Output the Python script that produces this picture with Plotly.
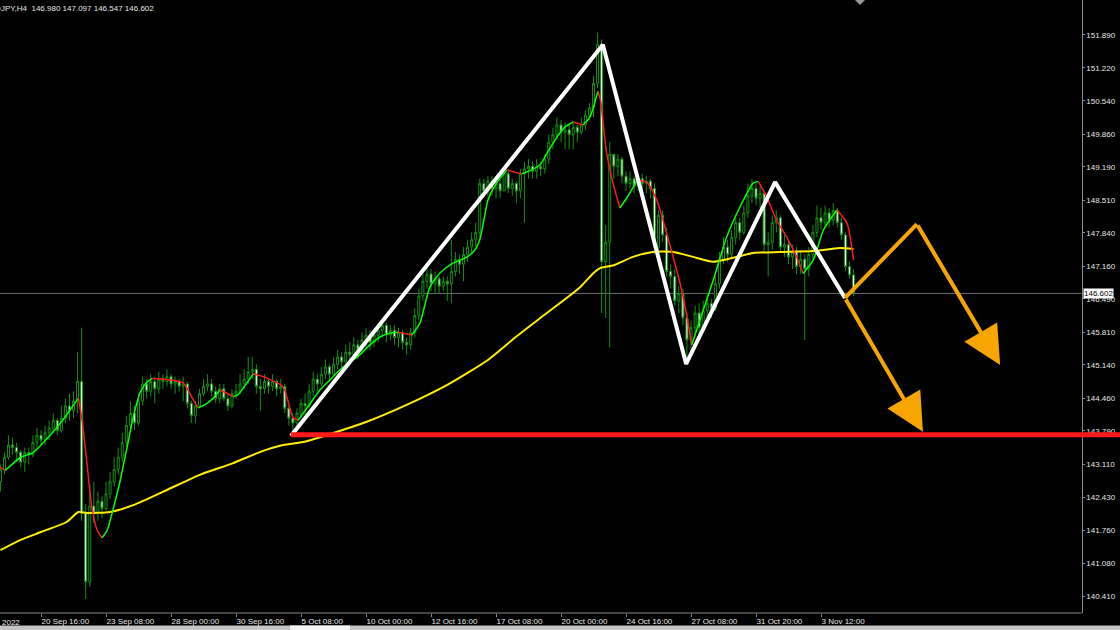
import plotly.graph_objects as go

# ---------------- data ----------------
symbol_header = "USDJPY,H4  146.980 147.097 146.547 146.602"
first_open = 142.75
closes = [
    143.00, 143.25, 143.50, 143.45, 143.35, 143.15, 143.35, 143.30, 143.55, 143.70,
    143.60, 143.75, 143.85, 144.00, 143.80, 144.05, 144.30, 144.20, 144.40, 144.80,
    142.10, 140.70, 142.25, 142.10, 142.35, 142.20, 142.50, 142.75, 143.00, 143.25,
    143.55, 143.90, 144.15, 143.95, 144.40, 144.75, 144.60, 144.80, 144.65, 144.85,
    144.80, 144.90, 144.75, 144.80, 144.70, 144.75, 144.35, 144.10, 144.30, 144.55,
    144.70, 144.75, 144.60, 144.45, 144.65, 144.45, 144.30, 144.55, 144.60, 144.75,
    144.85, 145.00, 145.05, 144.70, 144.65, 144.80, 144.70, 144.80, 144.65, 144.70,
    144.25, 144.05, 143.95, 144.15, 144.35, 144.30, 144.60, 144.85, 144.75, 144.95,
    145.10, 144.95, 145.15, 145.30, 145.20, 145.40, 145.35, 145.55, 145.45, 145.65,
    145.75, 145.60, 145.75, 145.85, 145.95, 145.75, 145.85, 145.70, 145.80, 145.60,
    145.55, 145.80, 146.15, 146.55, 146.85, 147.00, 146.80, 146.90, 146.75, 146.85,
    146.80, 147.05, 147.30, 147.20, 147.40, 147.55, 147.70, 147.85, 148.85, 148.70,
    148.90, 148.75, 148.85, 148.70, 149.05, 148.75, 148.85, 148.70, 149.05, 149.15,
    149.20, 149.10, 149.20, 149.15, 149.35, 149.70, 149.85, 150.05, 149.90, 149.95,
    149.85, 150.00, 149.90, 150.05, 150.25, 150.40, 150.90, 151.70, 147.25, 147.65,
    149.45, 149.20, 149.35, 149.00, 148.85, 148.95, 148.80, 148.95, 148.85, 148.90,
    148.75, 147.55, 148.20, 147.80, 147.05, 146.95, 146.45, 146.60, 146.10, 145.65,
    145.90, 146.20, 145.90, 146.25, 146.40, 146.30, 146.80, 147.30, 147.55, 147.40,
    147.75, 148.05, 147.85, 148.25, 148.60, 148.75, 148.55, 148.65, 147.60, 147.65,
    148.05, 148.15, 147.55, 147.60, 147.35, 147.45, 147.15, 147.30, 147.10, 147.40,
    147.85, 148.15, 148.05, 148.25, 148.10, 148.30, 148.05, 147.80, 147.15, 146.98,
    146.602,
]
highs = [
    143.10, 143.35, 143.70, 143.65, 143.55, 143.40, 143.45, 143.45, 143.70, 143.85,
    143.80, 143.90, 144.00, 144.15, 144.05, 144.30, 144.45, 144.55, 144.60, 145.40,
    145.90, 142.30, 142.70, 142.75, 142.55, 142.45, 142.75, 142.95, 143.25, 143.45,
    143.75, 144.10, 144.40, 144.30, 144.55, 144.90, 144.85, 144.95, 144.90, 145.00,
    144.95, 145.05, 144.95, 144.90, 144.85, 144.90, 144.80, 144.40, 144.40, 144.65,
    144.85, 144.95, 144.85, 144.70, 144.75, 144.75, 144.55, 144.65, 144.75, 144.95,
    145.05, 145.30, 145.30, 145.15, 144.85, 144.95, 144.85, 144.95, 144.85, 144.85,
    144.75, 144.30, 144.15, 144.25, 144.45, 144.55, 144.75, 145.00, 144.95, 145.10,
    145.25, 145.15, 145.30, 145.45, 145.40, 145.55, 145.60, 145.70, 145.65, 145.80,
    145.90, 145.85, 145.90, 146.00, 146.05, 146.00, 145.95, 145.95, 145.90, 145.85,
    145.70, 145.90, 146.30, 146.70, 147.00, 147.15, 147.10, 147.05, 146.95, 146.95,
    146.95, 147.70, 147.45, 147.40, 147.55, 147.70, 147.85, 148.05, 148.95, 148.95,
    149.00, 149.00, 148.95, 148.95, 149.15, 149.10, 148.95, 148.90, 149.15, 149.30,
    149.35, 149.30, 149.35, 149.30, 149.45, 149.85, 150.00, 150.20, 150.15, 150.10,
    150.05, 150.10, 150.05, 150.20, 150.35, 150.50, 151.05, 151.94, 151.80, 148.00,
    149.70, 149.40, 149.45, 149.40, 149.10, 149.10, 149.00, 149.05, 149.05, 149.00,
    148.95, 148.85, 148.30, 148.30, 147.95, 147.20, 147.10, 146.75, 146.70, 146.20,
    146.05, 146.35, 146.40, 146.45, 146.60, 146.50, 146.95, 147.45, 147.75, 147.70,
    147.90, 148.20, 148.15, 148.40, 148.85, 148.95, 148.85, 148.80, 148.70, 147.85,
    148.20, 148.30, 148.20, 147.80, 147.70, 147.60, 147.55, 147.45, 147.40, 147.55,
    148.00, 148.40, 148.35, 148.40, 148.35, 148.45, 148.35, 148.15, 147.85, 147.25,
    147.097,
]
lows = [
    142.55, 142.90, 143.20, 143.30, 143.15, 143.05, 142.95, 143.10, 143.25, 143.45,
    143.50, 143.50, 143.60, 143.75, 143.70, 143.75, 143.95, 144.00, 144.05, 144.15,
    141.95, 140.35, 140.60, 141.90, 141.95, 142.00, 142.15, 142.40, 142.65, 142.90,
    143.15, 143.45, 143.80, 143.80, 143.90, 144.30, 144.45, 144.50, 144.35, 144.55,
    144.65, 144.70, 144.65, 144.55, 144.60, 144.40, 144.25, 143.95, 143.95, 144.25,
    144.50, 144.60, 144.50, 144.35, 144.35, 144.40, 144.20, 144.25, 144.45, 144.55,
    144.65, 144.75, 144.85, 144.55, 144.20, 144.55, 144.55, 144.60, 144.50, 144.55,
    144.15, 143.90, 143.70, 143.85, 144.05, 144.10, 144.25, 144.50, 144.60, 144.70,
    144.85, 144.80, 144.90, 145.05, 145.05, 145.10, 145.20, 145.30, 145.25, 145.35,
    145.50, 145.45, 145.50, 145.60, 145.70, 145.60, 145.65, 145.55, 145.50, 145.45,
    145.35, 145.45, 145.70, 146.05, 146.45, 146.70, 146.65, 146.60, 146.60, 146.65,
    146.45, 146.40, 146.95, 147.00, 146.85, 147.25, 147.40, 147.55, 147.75, 148.55,
    148.60, 148.60, 148.55, 148.55, 148.70, 148.65, 148.60, 148.45, 148.55, 148.05,
    148.95, 148.95, 148.95, 149.00, 149.05, 149.25, 149.55, 149.75, 149.70, 149.55,
    149.55, 149.55, 149.70, 149.85, 149.95, 150.15, 150.20, 150.80, 146.20, 146.10,
    145.50, 148.95, 149.00, 148.85, 148.70, 148.75, 148.65, 148.70, 148.70, 148.65,
    148.55, 147.40, 147.45, 147.65, 146.95, 146.70, 146.35, 146.20, 145.95, 145.15,
    145.40, 145.75, 145.75, 145.85, 146.05, 146.10, 146.25, 146.70, 147.20, 147.25,
    147.30, 147.60, 147.70, 147.80, 148.15, 148.45, 148.40, 148.35, 147.45, 146.95,
    147.50, 147.85, 147.45, 147.35, 147.20, 147.10, 147.00, 147.00, 145.65, 146.95,
    147.30, 147.75, 147.90, 147.95, 147.95, 148.00, 147.95, 147.70, 147.05, 146.90,
    146.547,
]
bars = list(range(len(closes)))
opens = [first_open] + closes[:-1]

# fast moving average (green rising / red falling), read as (bar, price)
fast_bars = [0, 1.2, 5, 8, 10, 13, 15, 17, 19.2, 20.1, 21.3, 22.5, 23.8, 25, 26.3, 27.7,
             29.5, 31.2, 32.7, 34.4, 36.1, 37.3, 41, 45, 47.5, 48.7, 50.5, 52.4, 54,
             55.5, 57.3, 58.5, 60.5, 62.3, 65.6, 69.6, 72, 73.3, 76, 78.7, 81.1, 83.6,
             86, 87.8, 91, 93.4, 95.9, 97.9, 99.5, 101.3, 103.3, 104.5, 105.7, 108.2,
             111.4, 114.9, 116.8, 118, 119, 120, 121.8, 124.7, 127.2, 128.4, 129.6,
             132.8, 134.6, 137, 139, 141, 143.4, 145.1, 147.1, 147.8, 149.1, 150.8,
             152.5, 154.2, 156.8, 159.1, 161.6, 164, 167.3, 169, 170.2, 172.2, 175.5,
             178.8, 182.1, 185.3, 186.6, 188.6, 191.1, 193.5, 196, 197.6, 200.1, 202.6,
             205.9, 208.4, 210]
fast_vals = [143.05, 142.98, 143.25, 143.34, 143.50, 143.77, 143.97, 144.20, 144.46, 144.01,
             143.13, 142.23, 141.76, 141.60, 141.76, 142.17, 142.78, 143.46, 144.07, 144.58,
             144.79, 144.86, 144.84, 144.77, 144.42, 144.26, 144.33, 144.46, 144.62, 144.57,
             144.49, 144.53, 144.75, 144.96, 144.87, 144.69, 144.07, 144.01, 144.32, 144.63,
             144.83, 145.04, 145.20, 145.30, 145.55, 145.71, 145.79, 145.81, 145.78, 145.75,
             146.00, 146.37, 146.73, 147.02, 147.22, 147.35, 147.49, 147.70, 148.10, 148.51,
             148.82, 149.13, 149.07, 149.05, 149.09, 149.23, 149.48, 149.80, 150.01, 150.11,
             150.05, 150.21, 150.74, 150.52, 149.54, 148.86, 148.35, 148.56, 148.92, 148.88,
             148.51, 147.83, 146.81, 146.13, 145.55, 146.06, 146.88, 147.76, 148.38, 148.86,
             148.89, 148.58, 148.10, 147.76, 147.35, 147.01, 147.29, 147.90, 148.31, 148.04,
             147.29]

# slow moving average (yellow), read as (bar, price)
slow_bars = [0, 5, 10, 16.4, 19.2, 21.3, 27, 32.7, 41, 49.1, 57.3, 64, 69.6, 74.5, 78.7,
             90, 100, 110, 120, 127, 134.5, 142.7, 146, 147.6, 151, 155.7, 160.6, 165.6,
             170.5, 175.4, 180.3, 185.3, 191.9, 200, 206.7, 210]
slow_vals = [141.35, 141.56, 141.72, 141.93, 142.13, 142.11, 142.13, 142.27, 142.58, 142.89,
             143.13, 143.36, 143.50, 143.56, 143.66, 143.97, 144.32, 144.73, 145.24, 145.72,
             146.20, 146.73, 147.02, 147.12, 147.18, 147.35, 147.45, 147.45, 147.35, 147.25,
             147.33, 147.43, 147.45, 147.47, 147.53, 147.51]

# hand-drawn pattern (white zig-zag), support level and projected paths
zig_bars = [71.5, 148.3, 168.8, 190.7, 207.9]
zig_prices = [143.685, 151.69, 145.16, 148.88, 146.51]
support_level = 143.71
proj_start = (207.9, 146.51)
proj_peak = (225.6, 148.02)
proj_tip_a = (246.1, 145.14)
proj_tip_b = (227.1, 143.77)
last_price = 146.602

# axes
tick_bars = [10, 26, 42, 58, 74, 90, 106, 122, 138, 154, 170, 186, 202]
tick_labels = ["20 Sep 16:00", "23 Sep 08:00", "28 Sep 00:00", "30 Sep 16:00",
               "5 Oct 08:00", "10 Oct 00:00", "12 Oct 16:00", "17 Oct 08:00",
               "20 Oct 00:00", "24 Oct 16:00", "27 Oct 08:00", "31 Oct 20:00",
               "3 Nov 12:00"]
price_ticks = [151.89, 151.22, 150.54, 149.86, 149.19, 148.51, 147.84, 147.16, 146.49,
               145.81, 145.14, 144.46, 143.79, 143.11, 142.43, 141.76, 141.08, 140.41]
x_range = [-0.1, 275.6]
y_range = [140.063, 152.606]

# ---------------- styles ----------------
CANDLE = "#149014"
LIME = "#00ff00"
RED = "#ff1a1a"
YELLOW = "#ffee00"
ORANGE = "#f7a500"
AXIS = "#8c8c8c"
TXT = "#e6e6e6"
FONT = "Liberation Sans"
AXIS_POS = 0.9658

fig = go.Figure()

fig.add_trace(go.Candlestick(
    x=bars, open=opens, high=highs, low=lows, close=closes,
    increasing=dict(line=dict(color=CANDLE, width=1), fillcolor="black"),
    decreasing=dict(line=dict(color=CANDLE, width=1), fillcolor="white"),
    whiskerwidth=0, hoverinfo="skip",
))

# slow MA
fig.add_trace(go.Scatter(x=slow_bars, y=slow_vals, mode="lines",
                         line=dict(color=YELLOW, width=2, shape="spline", smoothing=0.6),
                         hoverinfo="skip"))

# fast MA coloured by direction
dirs = [fast_vals[k] >= fast_vals[k - 1] for k in range(1, len(fast_vals))]
runs = []
s = 0
for k in range(1, len(dirs)):
    if dirs[k] != dirs[k - 1]:
        runs.append((s, k, dirs[k - 1]))
        s = k
runs.append((s, len(dirs), dirs[-1]))
for a, b, up in runs:
    fig.add_trace(go.Scatter(x=fast_bars[a:b + 1], y=fast_vals[a:b + 1], mode="lines",
                             line=dict(color=LIME if up else RED, width=1.5,
                                       shape="spline", smoothing=0.6),
                             hoverinfo="skip"))

# white zig-zag pattern
fig.add_trace(go.Scatter(x=zig_bars, y=zig_prices, mode="lines",
                         line=dict(color="white", width=4), hoverinfo="skip"))

shapes = []
# current price line (stops at the price scale)
shapes.append(dict(type="line", xref="paper", yref="y", x0=0, x1=AXIS_POS,
                   y0=last_price, y1=last_price, line=dict(color="#6e6e6e", width=1),
                   layer="below"))
# support line
shapes.append(dict(type="line", xref="x", yref="y", x0=zig_bars[0], x1=x_range[1] + 5,
                   y0=support_level, y1=support_level, line=dict(color=RED, width=5)))
# orange up leg
shapes.append(dict(type="line", xref="x", yref="y", x0=proj_start[0], y0=proj_start[1],
                   x1=proj_peak[0], y1=proj_peak[1], line=dict(color=ORANGE, width=4)))
# bottom axis line and window strip
shapes.append(dict(type="line", xref="paper", yref="paper", x0=0, x1=AXIS_POS, y0=0, y1=0,
                   line=dict(color=AXIS, width=1)))
shapes.append(dict(type="rect", xref="paper", yref="paper", x0=0, x1=1,
                   y0=-0.0277, y1=-0.0205, fillcolor="#c4c4c4", line=dict(width=0)))
shapes.append(dict(type="rect", xref="paper", yref="paper", x0=0.259, x1=0.3125,
                   y0=-0.0277, y1=-0.0205, fillcolor="#f4f4f4", line=dict(width=0)))
# chart-shift marker at top
shapes.append(dict(type="path", xref="paper", yref="paper",
                   path="M 0.7634 1 L 0.7723 1 L 0.7679 0.9918 Z",
                   fillcolor="#9a9a9a", line=dict(width=0)))

annotations = []
for tip, tail in [(proj_tip_a, proj_peak), (proj_tip_b, proj_start)]:
    annotations.append(dict(x=tip[0], y=tip[1], ax=tail[0], ay=tail[1],
                            xref="x", yref="y", axref="x", ayref="y", text="",
                            showarrow=True, arrowhead=2, arrowsize=1.9, arrowwidth=4,
                            arrowcolor=ORANGE, standoff=0))
annotations.append(dict(x=0, y=1, xref="paper", yref="paper", xanchor="left",
                        yanchor="top", xshift=-18, yshift=-2, showarrow=False,
                        text=symbol_header, font=dict(family=FONT, size=8, color=TXT)))
annotations.append(dict(x=0, y=0, xref="paper", yref="paper", xanchor="left",
                        yanchor="top", yshift=-3, showarrow=False, text="2022",
                        font=dict(family=FONT, size=8, color=TXT)))
annotations.append(dict(x=AXIS_POS + 0.0015, y=last_price, xref="paper", yref="y",
                        xanchor="left", yanchor="middle", showarrow=False,
                        text=f"{last_price:.3f}", bgcolor="white", borderpad=0,
                        font=dict(family=FONT, size=8, color="black")))

fig.update_layout(
    template="none",
    width=1120, height=630,
    margin=dict(l=0, r=0, t=0, b=17),
    paper_bgcolor="black", plot_bgcolor="black",
    showlegend=False, boxgap=0.3,
    font=dict(family=FONT, size=8, color=TXT),
    shapes=shapes, annotations=annotations,
    xaxis=dict(range=x_range, domain=[0, 1], showgrid=False, zeroline=False,
               showline=False, tickvals=tick_bars, ticktext=tick_labels,
               ticks="outside", ticklen=3, tickcolor=AXIS,
               ticklabelposition="outside right", automargin=False,
               rangeslider=dict(visible=False),
               tickfont=dict(family=FONT, size=8, color=TXT)),
    yaxis=dict(range=y_range, side="right", anchor="free", position=AXIS_POS,
               showgrid=False, zeroline=False, showline=True, linecolor=AXIS,
               linewidth=1, ticks="outside", ticklen=2, tickcolor=AXIS,
               tickvals=price_ticks, ticktext=[f"{v:.3f}" for v in price_ticks],
               automargin=False, tickfont=dict(family=FONT, size=8, color=TXT)),
)

fig.write_html(
    "out.html",
    config={"displayModeBar": False},
    post_script="document.body.style.margin='0';document.body.style.background='black';"
                "document.body.style.overflow='hidden';",
)
